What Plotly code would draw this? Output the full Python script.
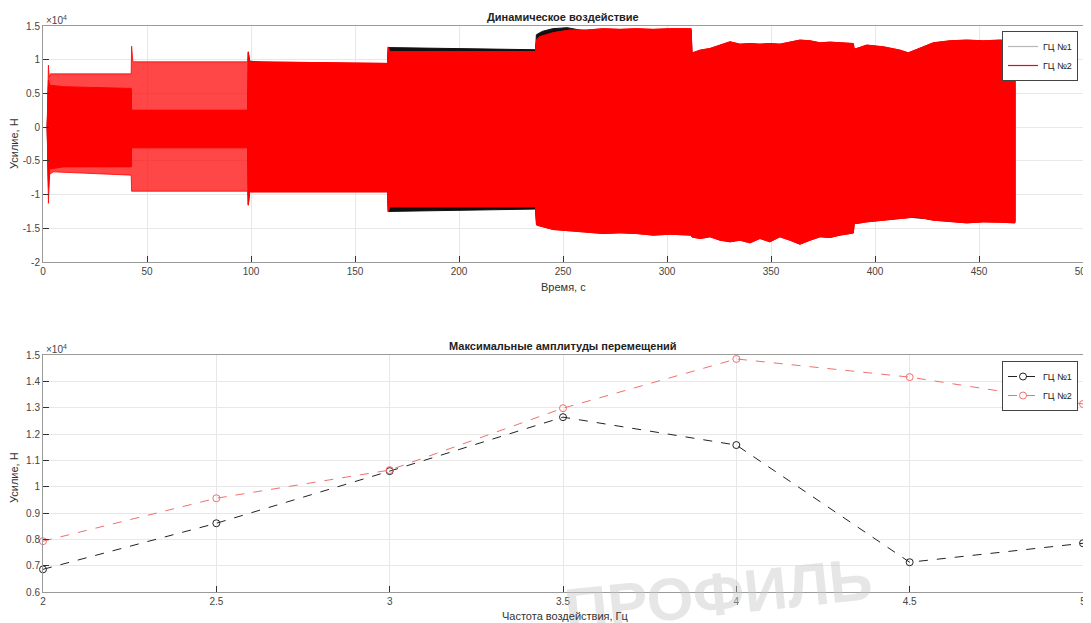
import plotly.graph_objects as go

# ---------------- data: top chart (force envelope, N) ----------------
# ГЦ №2 (red) outer envelope
t_red_up = [2.0, 2.6, 3.0, 3.6, 5.0, 42.4, 42.6, 43.2, 98.4, 98.7, 99.3, 165.6, 166.0, 166.6, 236.8,
            237.4, 238.7, 245.3, 253.4, 261.3, 269.4, 277.4, 285.4, 293.4, 301.4, 311.6,
            312.0, 315.9, 320.7, 325.5, 330.3, 335.1, 339.9, 344.7, 349.5, 354.3, 359.1,
            363.9, 368.8, 373.6, 378.4, 383.2, 389.6,
            390.0, 391.2, 396.0, 404.0, 412.0, 416.0, 420.0, 428.0, 436.1, 444.1, 452.1, 460.1, 467.3]
red_up = [0, 9200, 7400, 7900, 7900, 7900, 12000, 9690, 9690, 11170, 9690, 9450, 11900, 11200, 11200,
          13000, 13400, 14000, 14400, 14400, 14600, 14500, 14600, 14500, 14600, 14600,
          11000, 11420, 11670, 12170, 12660, 12310, 12410, 12310, 12410, 12310, 12660,
          12910, 12810, 12510, 12610, 12510, 12400,
          11600, 11670, 12170, 11920, 11420, 11020, 11520, 12510, 12810, 12910, 12810, 12910, 12810]
t_red_lo = [2.0, 2.6, 3.2, 5.0, 42.4, 42.6, 98.4, 98.7, 99.3, 165.6, 166.0, 166.6, 236.8,
            237.4, 245.3, 253.4, 261.3, 269.4, 277.4, 285.4, 293.4, 301.4, 311.6,
            312.0, 315.9, 320.7, 325.5, 330.3, 335.1, 339.9, 344.7, 349.5, 354.3, 359.1,
            363.9, 368.8, 373.6, 378.4, 383.2, 388.0, 389.6,
            390.0, 391.2, 396.0, 404.0, 412.0, 420.0, 428.0, 436.1, 444.1, 452.1, 460.1, 467.3]
red_lo = [0, -11300, -7000, -6630, -7120, -9500, -9500, -11570, -9600, -9600, -12570, -11800, -11800,
          -14540, -15180, -15380, -15530, -15780, -15680, -15780, -16020, -15880, -16020,
          -16300, -16520, -16270, -16770, -17010, -16770, -17160, -16520, -17010, -16270, -16770,
          -17360, -16770, -16270, -16370, -16020, -15770, -15700,
          -14290, -14290, -14050, -13800, -13550, -13310, -13800, -14050, -14200, -14050, -14100, -14200]

# ГЦ №2 dense core during the first two load stages
t_core = [2.0, 2.6, 3.2, 10.0, 42.4, 42.6, 98.4]
core_up = [0, 7000, 6230, 6000, 5740, 2520, 2520]
core_lo = [0, -9000, -6200, -5890, -5890, -3070, -3070]

# ГЦ №1 (black) envelope
t_blk_up = [2.0, 2.6, 3.2, 42.4, 42.6, 98.4, 98.7, 99.3, 105.0, 165.6, 166.0, 236.8,
            237.2, 240.0, 245.0, 252.0, 260.0, 311.6, 312.0, 389.6,
            390.0, 400.0, 410.0, 420.0, 440.0, 467.3]
blk_up = [0, 6000, 5500, 5500, 2400, 2400, 11000, 9800, 9600, 9350, 11800, 11480,
          13700, 14200, 14600, 14750, 14300, 14300, 10800, 12000,
          11300, 11000, 10700, 11200, 12400, 12400]
t_blk_lo = [2.0, 2.6, 3.2, 42.4, 42.6, 98.4, 98.7, 99.3, 165.6, 166.0, 236.8,
            237.2, 250.0, 311.6, 312.0, 389.6, 390.0, 400.0, 410.0, 430.0, 467.3]
blk_lo = [0, -8000, -5800, -5800, -2900, -2900, -11400, -9500, -9500, -12500, -12150,
          -14400, -15000, -15700, -16100, -15500, -14000, -13500, -13200, -13700, -14000]

# ---------------- data: bottom chart ----------------
freq = [2.0, 2.5, 3.0, 3.5, 4.0, 4.5, 5.0]
amp_gc1 = [6860, 8610, 10590, 12640, 11580, 7130, 7850]
amp_gc2 = [7930, 9560, 10630, 12980, 14850, 14160, 13140]

top_yticks = [-20000, -15000, -10000, -5000, 0, 5000, 10000, 15000]
top_yticklabels = ['-2', '-1.5', '-1', '-0.5', '0', '0.5', '1', '1.5']
top_xticks = list(range(0, 501, 50))
bot_yticks = [6000, 7000, 8000, 9000, 10000, 11000, 12000, 13000, 14000, 15000]
bot_yticklabels = ['0.6', '0.7', '0.8', '0.9', '1', '1.1', '1.2', '1.3', '1.4', '1.5']
bot_xticks = [2, 2.5, 3, 3.5, 4, 4.5, 5]
bot_xticklabels = ['2', '2.5', '3', '3.5', '4', '4.5', '5']

# ---------------- figure ----------------
W, H = 1091, 623
ML, MR, MT, MB = 35, 16, 18, 39   # page is offset by the 8px body margin
PL, PR, PT, PB = 43, 1083, 26, 592   # plot area in page pixels


def px(x):
    return (x - PL) / (PR - PL)


def py(y):
    return (PB - y) / (PB - PT)


fig = go.Figure()


def poly(tu, yu, tl, yl):
    return tu + tl[::-1], yu + yl[::-1]


# black envelope (under red)
bx, by = poly(t_blk_up, blk_up, t_blk_lo, blk_lo)
fig.add_trace(go.Scatter(x=bx, y=by, fill='toself', fillcolor='#111111', mode='lines',
                         line=dict(color='#111111', width=1), showlegend=False,
                         hoverinfo='skip', xaxis='x', yaxis='y'))
# red outer (striped zone, lighter)
rx, ry = poly(t_red_up, red_up, t_red_lo, red_lo)
fig.add_trace(go.Scatter(x=rx, y=ry, fill='toself', fillcolor='rgba(255,0,0,0.72)', mode='lines',
                         line=dict(color='rgba(255,0,0,0.8)', width=1), showlegend=False,
                         hoverinfo='skip', xaxis='x', yaxis='y'))
# red core: early dense band + full envelope afterwards
cut = 98.5
cu_t = t_core + [t for t in t_red_up if t > cut]
cu_y = core_up + [v for t, v in zip(t_red_up, red_up) if t > cut]
cl_t = t_core + [t for t in t_red_lo if t > cut]
cl_y = core_lo + [v for t, v in zip(t_red_lo, red_lo) if t > cut]
cx, cy = poly(cu_t, cu_y, cl_t, cl_y)
fig.add_trace(go.Scatter(x=cx, y=cy, fill='toself', fillcolor='#ff0000', mode='lines',
                         line=dict(color='#ff0000', width=1), showlegend=False,
                         hoverinfo='skip', xaxis='x', yaxis='y'))
# legend entries for the top chart
fig.add_trace(go.Scatter(x=[None], y=[None], mode='lines', name='ГЦ №1',
                         line=dict(color='#b8b8b8', width=1.2), xaxis='x', yaxis='y', legend='legend'))
fig.add_trace(go.Scatter(x=[None], y=[None], mode='lines', name='ГЦ №2',
                         line=dict(color='red', width=1.2), xaxis='x', yaxis='y', legend='legend'))

# bottom chart
fig.add_trace(go.Scatter(x=freq, y=amp_gc1, mode='lines+markers', name='ГЦ №1',
                         line=dict(color='#222222', width=1, dash='dash'), cliponaxis=False,
                         marker=dict(symbol='circle-open', size=7, color='#222222', line=dict(width=1)),
                         xaxis='x2', yaxis='y2', legend='legend2'))
fig.add_trace(go.Scatter(x=freq, y=amp_gc2, mode='lines+markers', name='ГЦ №2',
                         line=dict(color='#f07070', width=1, dash='dash'), cliponaxis=False,
                         marker=dict(symbol='circle-open', size=7, color='#f07070', line=dict(width=1)),
                         xaxis='x2', yaxis='y2', legend='legend2'))

axis_common = dict(showgrid=True, gridcolor='#e8e8e8', gridwidth=1, zeroline=False,
                   showline=True, linecolor='#9a9a9a', linewidth=1, mirror=True,
                   ticks='inside', ticklen=6, tickcolor='#333333', automargin=False,
                   tickfont=dict(family='Liberation Sans, Arial', size=10, color='#444444'))

leg_common = dict(xanchor='right', yanchor='top', bgcolor='white', bordercolor='#444444',
                  borderwidth=1, font=dict(size=9, color='#222222'), itemwidth=30,
                  tracegroupgap=0)

fig.update_layout(
    width=W, height=H,
    margin=dict(l=ML, r=MR, t=MT, b=MB, autoexpand=False),
    paper_bgcolor='white', plot_bgcolor='white',
    font=dict(family='Liberation Sans, Arial', size=10, color='#333333'),
    xaxis=dict(domain=[0, 1], range=[0, 500], tickvals=top_xticks, anchor='y', **axis_common),
    yaxis=dict(domain=[py(262), 1], range=[-20000, 15000], tickvals=top_yticks,
               ticktext=top_yticklabels, anchor='x', **axis_common),
    xaxis2=dict(domain=[0, 1], range=[2, 5], tickvals=bot_xticks, ticktext=bot_xticklabels,
                anchor='y2', **axis_common),
    yaxis2=dict(domain=[0, py(355)], range=[6000, 15000], tickvals=bot_yticks,
                ticktext=bot_yticklabels, anchor='x2', **axis_common),
    legend=dict(x=px(1078), y=py(31), **leg_common),
    legend2=dict(x=px(1078), y=py(361), **leg_common),
    showlegend=True,
)


def label(text, x, y, size=11, color='#333333', angle=0, xa='center'):
    return dict(text=text, x=px(x), y=py(y), xref='paper', yref='paper', xanchor=xa,
                yanchor='middle', textangle=angle, showarrow=False,
                font=dict(size=size, color=color))


ann = [
    label('<b>ПРОФИЛЬ</b>', 718, 594, 60, 'rgba(200,200,200,0.45)', angle=-6),
    label('<b>Динамическое воздействие</b>', 563, 17, 11, '#222222'),
    label('<b>Максимальные амплитуды перемещений</b>', 563, 346, 11, '#222222'),
    label('Время, с', 563, 287, 11),
    label('Частота воздействия, Гц', 565, 616, 11),
    label('Усилие, Н', 14, 144, 11, angle=-90),
    label('Усилие, Н', 14, 478, 11, angle=-90),
    label('×10<sup>4</sup>', 44, 20, 10, '#444444', xa='left'),
    label('×10<sup>4</sup>', 44, 349, 10, '#444444', xa='left'),
]
fig.update_layout(annotations=ann)

fig.write_html('out.html')
